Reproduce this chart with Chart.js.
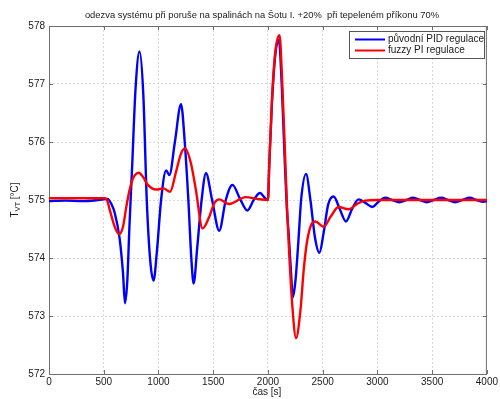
<!DOCTYPE html>
<html>
<head>
<meta charset="utf-8">
<script src="https://cdn.jsdelivr.net/npm/chart.js@4/dist/chart.umd.min.js"></script>
<style>
  html, body { margin: 0; padding: 0; background: #fff; }
  canvas { display: block; }
</style>
</head>
<body>
<canvas id="odezva" width="500" height="399"></canvas>
<script>
// Teplota T_VT po poruše na spalinách – původní PID vs. fuzzy PI
const pidTime = [0, 150, 300, 450, 535, 570, 600, 645, 676, 694, 715, 736, 760, 790, 827, 862, 893, 925, 955, 985,
  1024, 1070, 1100, 1150, 1206, 1240, 1273, 1300, 1321, 1355, 1394, 1434, 1490, 1555, 1615, 1676, 1745, 1812, 1870, 1927,
  1975, 2000, 2012, 2036, 2067, 2100, 2127, 2151, 2173, 2191, 2215, 2227, 2251, 2282, 2303, 2348, 2388, 2430, 2470, 2510,
  2550, 2600, 2655, 2712, 2770, 2827, 2890, 2955, 3010, 3070, 3135, 3200, 3265, 3327, 3390, 3450, 3515, 3582, 3645, 3710,
  3775, 3843, 3905, 3970, 4000];
const pidValues = [574.98, 574.99, 574.98, 575.0, 575.02, 574.93, 574.78, 574.34, 573.74, 573.22, 573.6, 574.6, 575.6, 576.9, 577.56, 576.8, 575.0, 573.95, 573.61, 574.1,
  575.0, 575.51, 575.43, 576.0, 576.65, 576.0, 575.0, 574.0, 573.56, 574.2, 575.0, 575.46, 575.0, 574.47, 575.0, 575.26, 575.02, 574.82, 575.0, 575.12,
  575.03, 575.0, 575.6, 576.65, 577.5, 577.76, 576.95, 575.8, 574.85, 574.37, 573.62, 573.32, 573.6, 574.4, 575.0, 575.45, 575.0, 574.35, 574.09, 574.45,
  574.92, 575.06, 574.85, 574.63, 574.85, 575.01, 574.95, 574.88, 574.97, 575.04, 575.0, 574.96, 575.0, 575.04, 575.0, 574.96, 575.0, 575.04, 575.0, 574.96,
  575.0, 575.04, 575.0, 574.97, 574.98];

const fuzzyTime = [0, 250, 509, 530, 555, 600, 639, 676, 706, 736, 767, 821, 858, 903, 979, 1045, 1106, 1161, 1206, 1243,
  1297, 1342, 1403, 1464, 1509, 1555, 1645, 1797, 1900, 2000, 2012, 2036, 2067, 2106, 2130, 2155, 2175, 2191, 2221, 2257,
  2297, 2327, 2357, 2403, 2433, 2509, 2575, 2645, 2736, 2820, 2888, 3000, 3500, 4000];
const fuzzyValues = [575.03, 575.03, 575.03, 575.0, 574.83, 574.54, 574.41, 574.54, 574.88, 575.17, 575.37, 575.47, 575.4, 575.26, 575.18, 575.2, 575.14, 575.49, 575.8, 575.89,
  575.63, 575.17, 574.51, 574.71, 574.94, 575.01, 574.93, 575.05, 575.02, 575.0, 575.6, 576.7, 577.55, 577.84, 577.05, 575.85, 574.85, 574.2, 573.22, 572.62,
  573.1, 573.8, 574.28, 574.6, 574.63, 574.54, 574.72, 574.88, 574.84, 574.94, 574.99, 575.0, 575.0, 575.0];

const xTicks = [0, 500, 1000, 1500, 2000, 2500, 3000, 3500, 4000];
const yTicks = [572, 573, 574, 575, 576, 577, 578];

const seriesNames = ['původní PID regulace', 'fuzzy PI regulace'];
const titleText = 'odezva systému při poruše na spalinách na Šotu I. +20%  při tepeleném příkonu 70%';

const FONT = '"Liberation Sans", Arial, Helvetica, sans-serif';
const toPoints = (t, v) => t.map((x, i) => ({ x: x, y: v[i] }));

// rámeček os, vnitřní značky, popisky a legenda ve stylu MATLABu
const matlabAxes = {
  id: 'matlabAxes',
  beforeDatasetsDraw(chart) {
    const { ctx, chartArea: a, scales } = chart;
    ctx.save();
    ctx.strokeStyle = '#6e6e6e';
    ctx.lineWidth = 1;
    ctx.strokeRect(a.left + 0.5, a.top + 0.5, a.right - a.left - 1, a.bottom - a.top);
    ctx.beginPath();
    xTicks.forEach(v => {
      const px = Math.round(scales.x.getPixelForValue(v)) + 0.5;
      ctx.moveTo(px, a.bottom); ctx.lineTo(px, a.bottom - 4);
      ctx.moveTo(px, a.top); ctx.lineTo(px, a.top + 4);
    });
    yTicks.forEach(v => {
      const py = Math.round(scales.y.getPixelForValue(v)) + 0.5;
      ctx.moveTo(a.left, py); ctx.lineTo(a.left + 4, py);
      ctx.moveTo(a.right, py); ctx.lineTo(a.right - 4, py);
    });
    ctx.stroke();
    ctx.restore();
  },
  afterDraw(chart) {
    const { ctx, chartArea: a } = chart;
    ctx.save();
    ctx.fillStyle = '#1a1a1a';
    ctx.textBaseline = 'middle';

    // titulek
    ctx.font = '9.4px ' + FONT;
    ctx.textAlign = 'center';
    ctx.fillText(titleText, (a.left + a.right) / 2 - 6, 15);

    // popisek osy x
    ctx.font = '10px ' + FONT;
    ctx.fillText('čas [s]', (a.left + a.right) / 2 - 1, 392);

    // popisek osy y s dolním indexem
    ctx.translate(15, 200);
    ctx.rotate(-Math.PI / 2);
    ctx.textAlign = 'left';
    const big = '10px ' + FONT, small = '7.5px ' + FONT;
    ctx.font = big; const wT = ctx.measureText('T').width;
    ctx.font = small; const wSub = ctx.measureText('VT').width;
    ctx.font = big; const wRest = ctx.measureText(' [°C]').width;
    let x0 = -(wT + wSub + wRest) / 2;
    ctx.font = big; ctx.fillText('T', x0, 0);
    ctx.font = small; ctx.fillText('VT', x0 + wT, 3);
    ctx.font = big; ctx.fillText(' [°C]', x0 + wT + wSub, 0);
    ctx.setTransform(1, 0, 0, 1, 0, 0);

    // legenda
    const lx = 349, ly = 31, lw = 135, lh = 27;
    ctx.fillStyle = '#fff';
    ctx.fillRect(lx, ly, lw, lh);
    ctx.strokeStyle = '#555';
    ctx.lineWidth = 1;
    ctx.strokeRect(lx + 0.5, ly + 0.5, lw, lh);
    chart.data.datasets.forEach((ds, i) => {
      const y = ly + 8.5 + i * 11;
      ctx.strokeStyle = ds.borderColor;
      ctx.lineWidth = 2;
      ctx.beginPath();
      ctx.moveTo(lx + 6, y); ctx.lineTo(lx + 36, y);
      ctx.stroke();
      ctx.fillStyle = '#1a1a1a';
      ctx.font = '10px ' + FONT;
      ctx.textAlign = 'left';
      ctx.fillText(ds.label, lx + 39, y);
    });
    ctx.restore();
  }
};

new Chart(document.getElementById('odezva'), {
  type: 'line',
  data: {
    datasets: [
      {
        label: seriesNames[0],
        data: toPoints(pidTime, pidValues),
        borderColor: '#0000ff',
        borderWidth: 2.4,
        order: 1
      },
      {
        label: seriesNames[1],
        data: toPoints(fuzzyTime, fuzzyValues),
        borderColor: '#ff0000',
        borderWidth: 2.4,
        order: 0
      }
    ]
  },
  options: {
    responsive: false,
    animation: false,
    devicePixelRatio: 1,
    parsing: false,
    layout: { padding: { top: 26, right: 11, left: 0, bottom: 0 } },
    elements: {
      point: { radius: 0 },
      line: { cubicInterpolationMode: 'monotone', fill: false }
    },
    plugins: {
      legend: { display: false },
      tooltip: { enabled: false },
      title: { display: false }
    },
    scales: {
      x: {
        type: 'linear',
        min: 0,
        max: 4000,
        afterBuildTicks: s => { s.ticks = xTicks.map(v => ({ value: v })); },
        afterFit: s => { s.height = 25; },
        ticks: {
          color: '#1a1a1a', font: { family: FONT, size: 10 }, padding: 2, maxRotation: 0,
          callback: v => String(v)
        },
        grid: { color: '#d9d9d9', drawTicks: false, lineWidth: 1 },
        border: { display: false, dash: [2, 2] }
      },
      y: {
        type: 'linear',
        min: 572,
        max: 578,
        afterBuildTicks: s => { s.ticks = yTicks.map(v => ({ value: v })); },
        afterFit: s => { s.width = 49; },
        ticks: {
          color: '#1a1a1a', font: { family: FONT, size: 10 }, padding: 4,
          callback: v => String(v)
        },
        grid: { color: '#d9d9d9', drawTicks: false, lineWidth: 1 },
        border: { display: false, dash: [2, 2] }
      }
    }
  },
  plugins: [matlabAxes]
});
</script>
</body>
</html>
